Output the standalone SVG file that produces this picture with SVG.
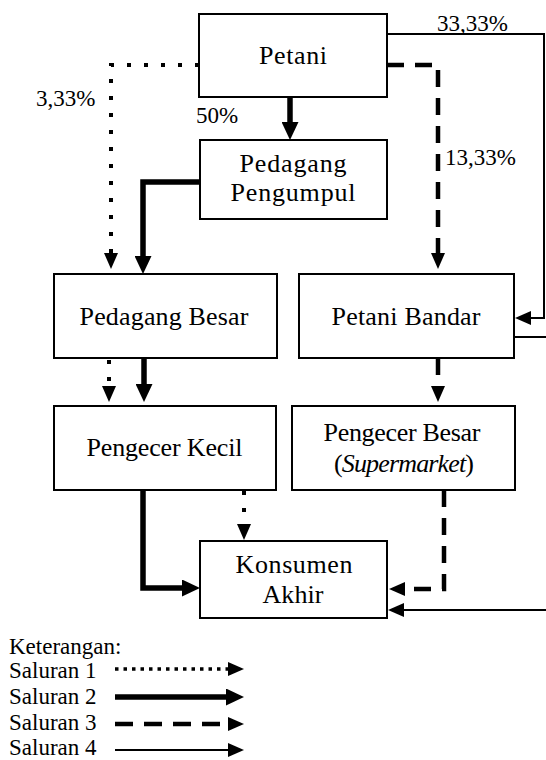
<svg xmlns="http://www.w3.org/2000/svg" width="546" height="760" viewBox="0 0 546 760">
<style>
  .box { fill: #fff; stroke: #000; stroke-width: 2; }
  .t { font-family: "Liberation Serif", "Times New Roman", serif; font-size: 26px; fill: #000; text-anchor: middle; }
  .lbl { font-family: "Liberation Serif", "Times New Roman", serif; font-size: 23px; fill: #000; }
  .s1 { fill: none; stroke: #000; stroke-width: 4; stroke-dasharray: 4 13; }
  .s1.dense { stroke-width: 3.5; stroke-dasharray: 3.5 5; }
  .s2 { fill: none; stroke: #000; stroke-width: 5.5; stroke-linejoin: miter; }
  .s3 { fill: none; stroke: #000; stroke-width: 4.5; stroke-dasharray: 17 11; stroke-linejoin: miter; }
  .s3.leg { stroke-dasharray: 18 11; }
  .s4 { fill: none; stroke: #000; stroke-width: 2; stroke-linejoin: miter; }
</style>
<defs>
  <marker id="ah" viewBox="0 0 16 14" refX="0" refY="7" markerWidth="16" markerHeight="14" markerUnits="userSpaceOnUse" orient="auto">
    <path d="M0,0 L16,7 L0,14 z" fill="#000"/>
  </marker>
  <marker id="ahb" viewBox="0 0 18 17" refX="0" refY="8.5" markerWidth="18" markerHeight="17" markerUnits="userSpaceOnUse" orient="auto">
    <path d="M0,0 L18,8.5 L0,17 z" fill="#000"/>
  </marker>
</defs>

<g id="connectors">
  <!-- Saluran 1 (dotted) -->
  <path class="s1" d="M199,65 H111 V253" marker-end="url(#ah)"/>
  <path class="s1" d="M109,360 V386" marker-end="url(#ah)"/>
  <path class="s1" d="M244,491 V524" marker-end="url(#ah)"/>
  <!-- Saluran 2 (thick) -->
  <path class="s2" d="M290,97 V122" marker-end="url(#ahb)"/>
  <path class="s2" d="M200,182 H143 V256" marker-end="url(#ahb)"/>
  <path class="s2" d="M144,358 V384" marker-end="url(#ahb)"/>
  <path class="s2" d="M143,490 V588 H182" marker-end="url(#ahb)"/>
  <!-- Saluran 3 (dashed) -->
  <path class="s3" d="M387,65 H438 V253" marker-end="url(#ah)"/>
  <path class="s3" d="M438,358 V386" marker-end="url(#ah)"/>
  <path class="s3" d="M444,490 V589 H405" marker-end="url(#ah)"/>
  <!-- Saluran 4 (thin) -->
  <path class="s4" d="M387,34 H544 V318 H531" marker-end="url(#ah)"/>
  <path class="s4" d="M514,337 H546"/>
  <path class="s4" d="M546,610 H404" marker-end="url(#ah)"/>
</g>

<g id="labels">
  <text class="lbl" x="437" y="31">33,33%</text>
  <text class="lbl" x="36" y="106">3,33%</text>
  <text class="lbl" x="196" y="123">50%</text>
  <text class="lbl" x="445" y="165">13,33%</text>
</g>

<g id="petani">
  <rect class="box" x="199" y="14" width="188" height="83"/>
  <text class="t" x="293" y="64" textLength="68">Petani</text>
</g>
<g id="pedagang-pengumpul">
  <rect class="box" x="200" y="140" width="187" height="79"/>
  <text class="t" x="293" y="172" textLength="107">Pedagang</text>
  <text class="t" x="293" y="201" textLength="125">Pengumpul</text>
</g>
<g id="pedagang-besar">
  <rect class="box" x="54" y="274" width="223" height="84"/>
  <text class="t" x="164" y="325" textLength="169">Pedagang Besar</text>
</g>
<g id="petani-bandar">
  <rect class="box" x="299" y="274" width="215" height="84"/>
  <text class="t" x="406" y="325" textLength="149">Petani Bandar</text>
</g>
<g id="pengecer-kecil">
  <rect class="box" x="54" y="406" width="222" height="84"/>
  <text class="t" x="164.5" y="456" textLength="156">Pengecer Kecil</text>
</g>
<g id="pengecer-besar">
  <rect class="box" x="292" y="406" width="223" height="84"/>
  <text class="t" x="402" y="441" textLength="157">Pengecer Besar</text>
  <text class="t" x="404" y="472" textLength="140">(<tspan font-style="italic">Supermarket</tspan>)</text>
</g>
<g id="konsumen-akhir">
  <rect class="box" x="200" y="541" width="187" height="77"/>
  <text class="t" x="294" y="573" textLength="117">Konsumen</text>
  <text class="t" x="293" y="603" textLength="61">Akhir</text>
</g>

<g id="legend">
  <text class="lbl" x="9" y="654">Keterangan:</text>
  <text class="lbl" x="9" y="678">Saluran 1</text>
  <text class="lbl" x="9" y="704">Saluran 2</text>
  <text class="lbl" x="9" y="730">Saluran 3</text>
  <text class="lbl" x="9" y="755">Saluran 4</text>
  <path class="s1 dense" d="M115,669 H228" marker-end="url(#ah)"/>
  <path class="s2" d="M115,697 H226" marker-end="url(#ahb)"/>
  <path class="s3 leg" d="M115,724 H228" marker-end="url(#ah)"/>
  <path class="s4" d="M115,750 H228" marker-end="url(#ah)"/>
</g>
</svg>
